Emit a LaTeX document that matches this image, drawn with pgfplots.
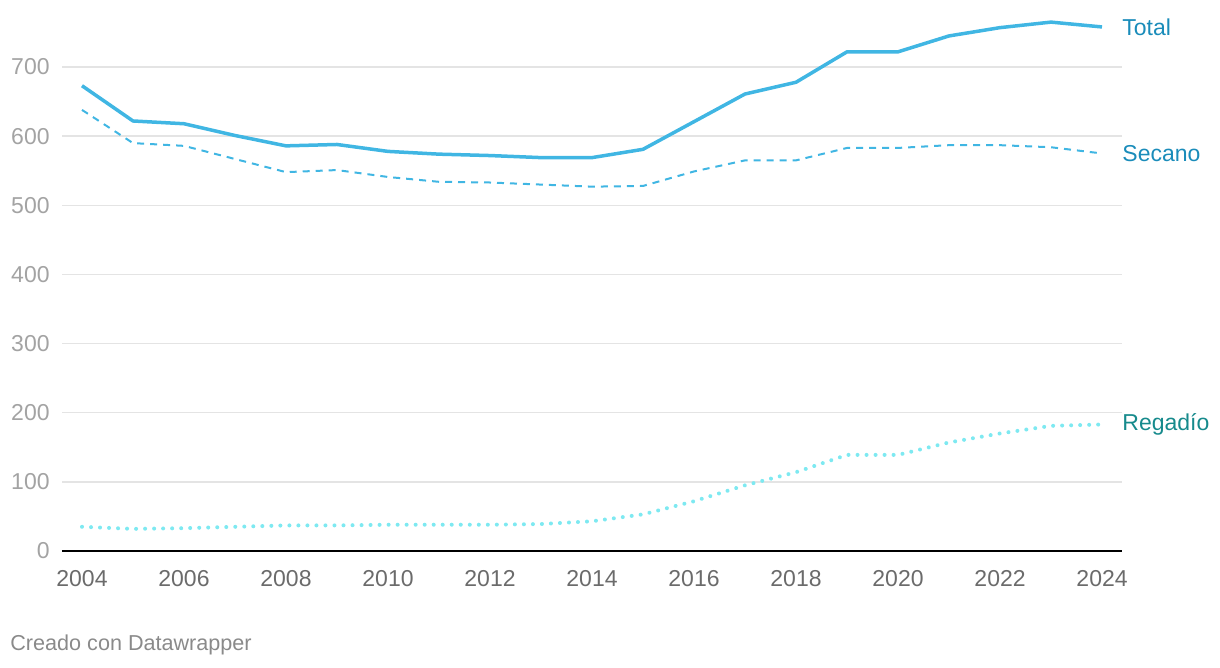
\documentclass[border=0pt]{standalone}
\usepackage{pgfplots}
\pgfplotsset{compat=1.18}
\usepackage{fontspec}
\setmainfont{Liberation Sans}
\definecolor{lineblue}{HTML}{40B6E3}
\definecolor{linecyan}{HTML}{7EE9F1}
\definecolor{lblblue}{HTML}{1A8CBA}
\definecolor{lblteal}{HTML}{168A8C}
\definecolor{gridgray}{HTML}{E4E4E4}
\definecolor{ytickgray}{HTML}{A3A3A3}
\definecolor{xtickgray}{HTML}{6B6B6B}
\definecolor{footgray}{HTML}{8A8A8A}
\begin{document}
\begin{tikzpicture}
\begin{axis}[
  at={(0,0)}, anchor=south west,
  scale only axis,
  width=530pt, height=275.5pt,
  xmin=2003.608, xmax=2024.392,
  ymin=0, ymax=797,
  clip=false,
  axis lines=left,
  x axis line style={black, line width=1pt, -},
  y axis line style={draw=none},
  major tick length=0pt,
  ytick={0,100,...,700},
  xtick={2004,2006,...,2024},
  ymajorgrids,
  grid style={gridgray, line width=0.75pt},
  /pgf/number format/assume math mode=true,
  xticklabel style={/pgf/number format/1000 sep=, anchor=base, inner sep=0pt, yshift=-18pt, text=xtickgray, font=\fontsize{11.5}{13}\selectfont},
  yticklabel style={anchor=east, inner sep=0pt, xshift=-6pt, text=ytickgray, font=\fontsize{11.5}{13}\selectfont},
]
\addplot[lineblue, line width=1.75pt, line join=round] coordinates {
(2004,673) (2005,622) (2006,618) (2007,601) (2008,586) (2009,588) (2010,578)
(2011,574) (2012,572) (2013,569) (2014,569) (2015,581) (2016,621) (2017,661)
(2018,678) (2019,722) (2020,722) (2021,745) (2022,757) (2023,765) (2024,758)};
\addplot[lineblue, line width=1pt, dash pattern=on 3.5pt off 3pt] coordinates {
(2004,638) (2005,590) (2006,586) (2007,567) (2008,548) (2009,551) (2010,541)
(2011,534) (2012,533) (2013,530) (2014,527) (2015,528) (2016,549) (2017,565)
(2018,565) (2019,583) (2020,583) (2021,587) (2022,587) (2023,584) (2024,575)};
\addplot[linecyan, line width=2pt, line cap=round, dash pattern=on 0.01pt off 4.5pt] coordinates {
(2004,35) (2005,32) (2006,33) (2007,35) (2008,37) (2009,37) (2010,38)
(2011,38) (2012,38) (2013,39) (2014,43) (2015,53) (2016,72) (2017,95)
(2018,114) (2019,139) (2020,139) (2021,157) (2022,170) (2023,181) (2024,183)};
\node[anchor=west, inner sep=0pt, xshift=10pt, text=lblblue, font=\fontsize{11.5}{13}\selectfont] at (axis cs:2024,758) {Total};
\node[anchor=west, inner sep=0pt, xshift=10pt, text=lblblue, font=\fontsize{11.5}{13}\selectfont] at (axis cs:2024,575) {Secano};
\node[anchor=west, inner sep=0pt, xshift=10pt, text=lblteal, font=\fontsize{11.5}{13}\selectfont] at (axis cs:2024,183) {Regadío};
\end{axis}
\node[anchor=base west, inner sep=0pt, text=footgray, font=\fontsize{10.8}{12}\selectfont] at (-26pt,-50pt) {Creado con Datawrapper};
\pgfresetboundingbox
\path[use as bounding box] (-31pt,-58.5pt) rectangle (579pt,275.5pt);
\end{tikzpicture}
\end{document}
